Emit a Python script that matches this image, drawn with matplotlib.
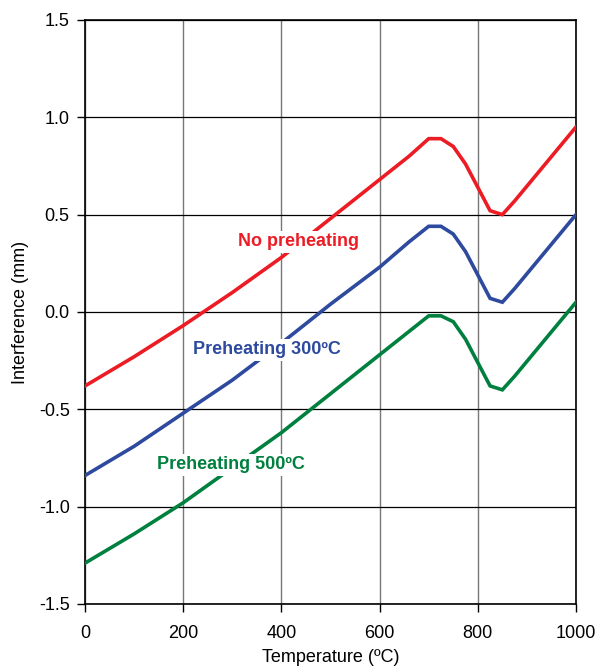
import matplotlib.pyplot as plt
import numpy as np

plt.rcParams['font.family'] = ['Liberation Sans', 'DejaVu Sans']

temps = [0, 100, 200, 300, 400, 500, 600, 660, 700, 725, 750, 775, 800, 825, 850, 875, 1000]
no_preheat = [-0.38, -0.23, -0.07, 0.10, 0.28, 0.48, 0.68, 0.80, 0.89, 0.89, 0.85, 0.76, 0.64, 0.52, 0.50, 0.57, 0.95]
preheat_300 = [-0.84, -0.69, -0.52, -0.35, -0.16, 0.04, 0.23, 0.36, 0.44, 0.44, 0.40, 0.31, 0.19, 0.07, 0.05, 0.12, 0.50]
preheat_500 = [-1.29, -1.14, -0.98, -0.80, -0.62, -0.42, -0.22, -0.10, -0.02, -0.02, -0.05, -0.14, -0.26, -0.38, -0.40, -0.33, 0.05]

series = [
    (no_preheat, '#ED1C24', 'No preheating', (434, 0.36)),
    (preheat_300, '#2E4A9E', 'Preheating 300ºC', (371, -0.195)),
    (preheat_500, '#00803E', 'Preheating 500ºC', (297, -0.785)),
]

fig = plt.figure(figsize=(6, 6.66), dpi=100)
ax = fig.add_axes([0.1417, 0.0931, 0.8183, 0.877])

for vals, col, name, pos in series:
    ax.plot(temps, vals, color=col, lw=2.6, solid_joinstyle='miter', zorder=3)
for vals, col, name, pos in series:
    ax.text(pos[0], pos[1], name, color=col, fontsize=13, fontweight='bold',
            ha='center', va='center', zorder=5,
            bbox=dict(facecolor='white', edgecolor='none', pad=2))

ax.set_xlim(0, 1000)
ax.set_ylim(-1.5, 1.5)
ax.set_xticks(np.arange(0, 1001, 200))
ax.set_yticks(np.arange(-1.5, 1.51, 0.5))
ax.set_yticklabels(['%.1f' % v for v in np.arange(-1.5, 1.51, 0.5)])
ax.yaxis.grid(True, color='black', lw=0.9)
ax.xaxis.grid(True, color='#777777', lw=1.0)
ax.set_axisbelow(True)
ax.tick_params(direction='out', length=6, width=1, labelsize=13)
ax.tick_params(axis='x', pad=9)
ax.tick_params(axis='y', pad=5)
for s in ax.spines.values():
    s.set_linewidth(1.2)
ax.set_xlabel('Temperature (ºC)', fontsize=13, labelpad=5)
ax.set_ylabel('Interference (mm)', fontsize=13, labelpad=7)

fig.savefig('out.png', dpi=100)
